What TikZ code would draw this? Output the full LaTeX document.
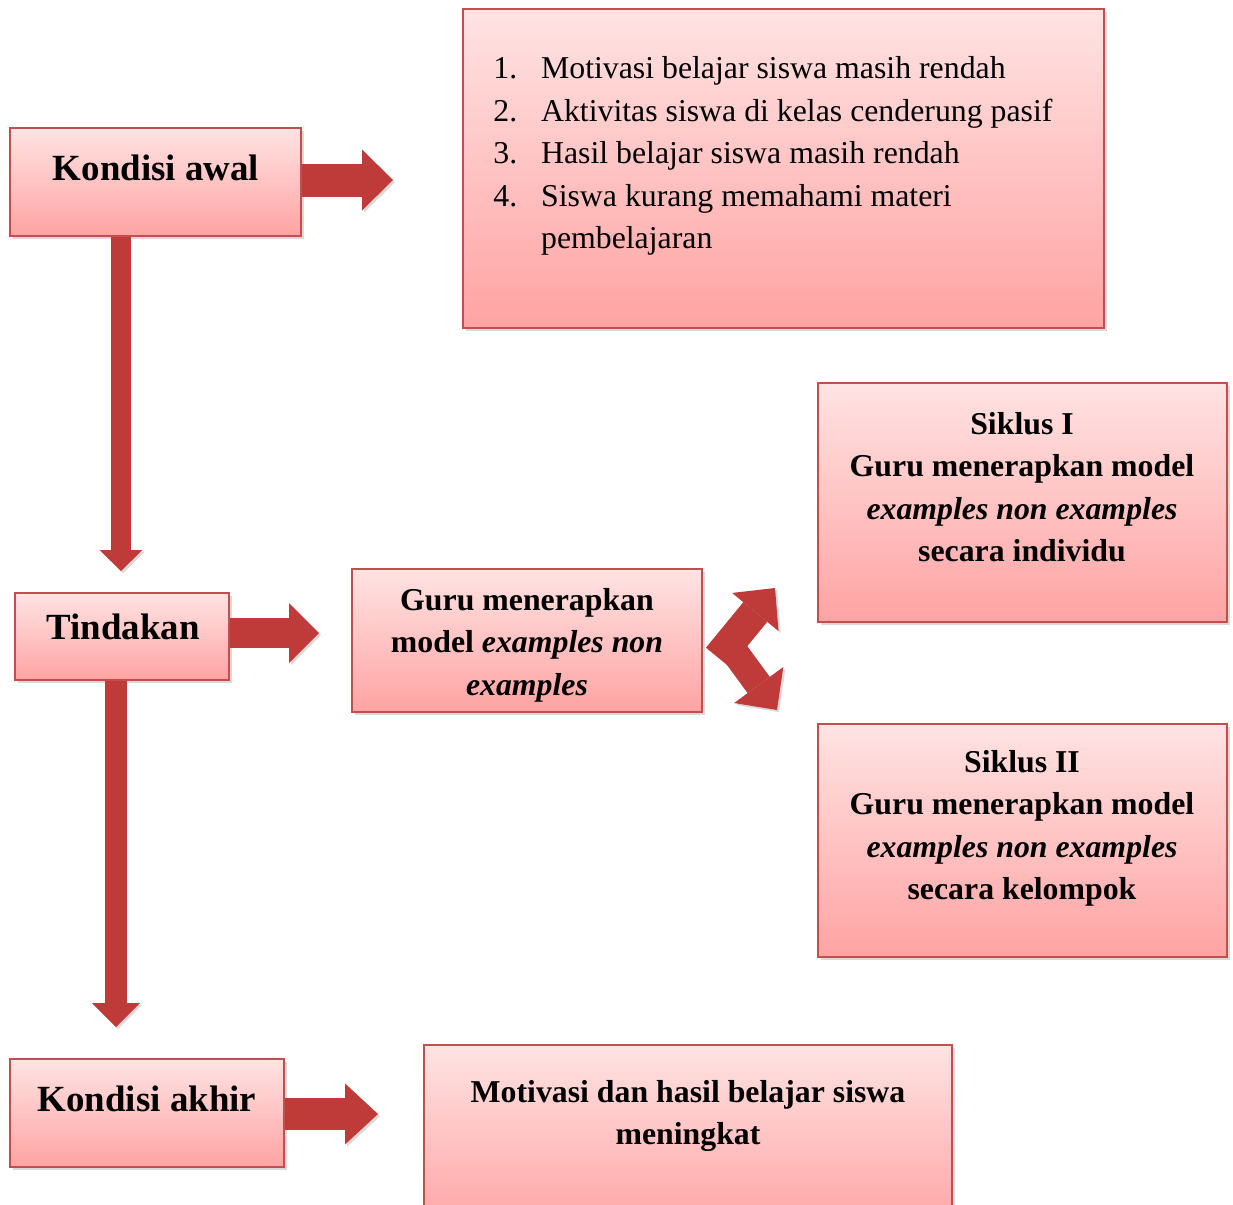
\documentclass[tikz,border=0pt]{standalone}
\usepackage{fontspec}
\setmainfont{Liberation Serif}
\usetikzlibrary{arrows.meta,shadows,calc}

\definecolor{pinkatas}{HTML}{FFE3E3}
\definecolor{pinkbawah}{HTML}{FFA3A3}
\definecolor{garis}{HTML}{C0504D}
\definecolor{merah}{HTML}{BE3B3A}

\begin{document}
\begin{tikzpicture}
  [x=0.02cm,y=-0.02cm,
   kotak/.style={rectangle,draw=garis,line width=1.1pt,top color=pinkatas,bottom color=pinkbawah,
     drop shadow={shadow xshift=1.5pt,shadow yshift=-1.5pt,opacity=0.3}},
   judul/.style={font=\bfseries\fontsize{21pt}{25pt}\selectfont,inner sep=0pt},
   isi/.style={font=\bfseries\fontsize{18.1pt}{24.1pt}\selectfont,align=center,inner sep=0pt},
   panah/.style={draw=merah,line cap=butt,
     preaction={draw=black,opacity=0.15,transform canvas={xshift=1.2pt,yshift=-1.2pt}}}]
  \useasboundingbox (0,0) rectangle (1233,1204);
  \clip (0,0) rectangle (1233,1204);

  % kotak-kotak
  \node[kotak,minimum width=5.82cm,minimum height=2.16cm] (kawal) at (155.5,182) {};
  \node[kotak,minimum width=12.82cm,minimum height=6.38cm] (masalah) at (783.5,168.5) {};
  \node[kotak,minimum width=4.28cm,minimum height=1.74cm] (tindakan) at (122,636.5) {};
  \node[kotak,minimum width=7cm,minimum height=2.86cm] (model) at (527,640.5) {};
  \node[kotak,minimum width=8.18cm,minimum height=4.78cm] (siklus1) at (1022.5,502.5) {};
  \node[kotak,minimum width=8.18cm,minimum height=4.66cm] (siklus2) at (1022.5,840.5) {};
  \node[kotak,minimum width=5.48cm,minimum height=2.16cm] (kakhir) at (147,1113) {};
  \node[kotak,minimum width=10.56cm,minimum height=3.7cm] (hasil) at (688,1137.5) {};

  % teks
  \node[judul,anchor=base] (kawal-t) at (156,180) {Kondisi awal};
  \node[judul,anchor=base] (tindakan-t) at (123,639) {Tindakan};
  \node[judul,anchor=base] (kakhir-t) at (147,1111) {Kondisi akhir};
  \node[anchor=north west,inner sep=0pt,font=\fontsize{18.1pt}{24.1pt}\selectfont] (masalah-t) at (493,49)
    {\begin{tabular}{@{}l@{\hspace{13.6pt}}l@{}}
     1. & Motivasi belajar siswa masih rendah\\
     2. & Aktivitas siswa di kelas cenderung pasif\\
     3. & Hasil belajar siswa masih rendah\\
     4. & Siswa kurang memahami materi\\
        & pembelajaran
     \end{tabular}};
  \node[isi,anchor=north] (model-t) at (527,588) {Guru menerapkan\\ model \textit{examples non}\\ \textit{examples}};
  \node[isi,anchor=north] (siklus1-t) at (1022,412) {Siklus I\\ Guru menerapkan model\\ \textit{examples non examples}\\ secara individu};
  \node[isi,anchor=north] (siklus2-t) at (1022,750) {Siklus II\\ Guru menerapkan model\\ \textit{examples non examples}\\ secara kelompok};
  \node[isi,anchor=north] (hasil-t) at (688,1080) {Motivasi dan hasil belajar siswa\\ meningkat};

  % panah
  \coordinate (a1) at (393,180);
  \coordinate (a2) at (121,571);
  \coordinate (a3) at (319,633);
  \coordinate (a4) at (116,1027);
  \coordinate (a5) at (378,1114);
  \coordinate (u0) at ($(model.east)+(15,17)$);
  \coordinate (u1) at (775,588);
  \coordinate (d0) at ($(model.east)+(21,-3)$);
  \coordinate (d1) at (777,710);

  \draw[panah,line width=0.66cm,-{Triangle[length=0.62cm,width=1.22cm,line width=0pt]}] (kawal.east |- a1) -- (a1);
  \draw[panah,line width=0.4cm,-{Triangle[length=0.42cm,width=0.86cm,line width=0pt]}] (kawal.south -| a2) -- (a2);
  \draw[panah,line width=0.6cm,-{Triangle[length=0.6cm,width=1.2cm,line width=0pt]}] (tindakan.east |- a3) -- (a3);
  \draw[panah,line width=0.46cm,-{Triangle[length=0.48cm,width=0.96cm,line width=0pt]}] (tindakan.south -| a4) -- (a4);
  \draw[panah,line width=0.64cm,-{Triangle[length=0.66cm,width=1.22cm,line width=0pt]}] (kakhir.east |- a5) -- (a5);
  \draw[panah,line width=0.62cm,-{Triangle[length=0.62cm,width=1.2cm,line width=0pt]}] (u0) -- (u1);
  \draw[panah,line width=0.55cm,-{Triangle[length=0.62cm,width=1.22cm,line width=0pt]}] (d0) -- (d1);

\end{tikzpicture}
\end{document}
